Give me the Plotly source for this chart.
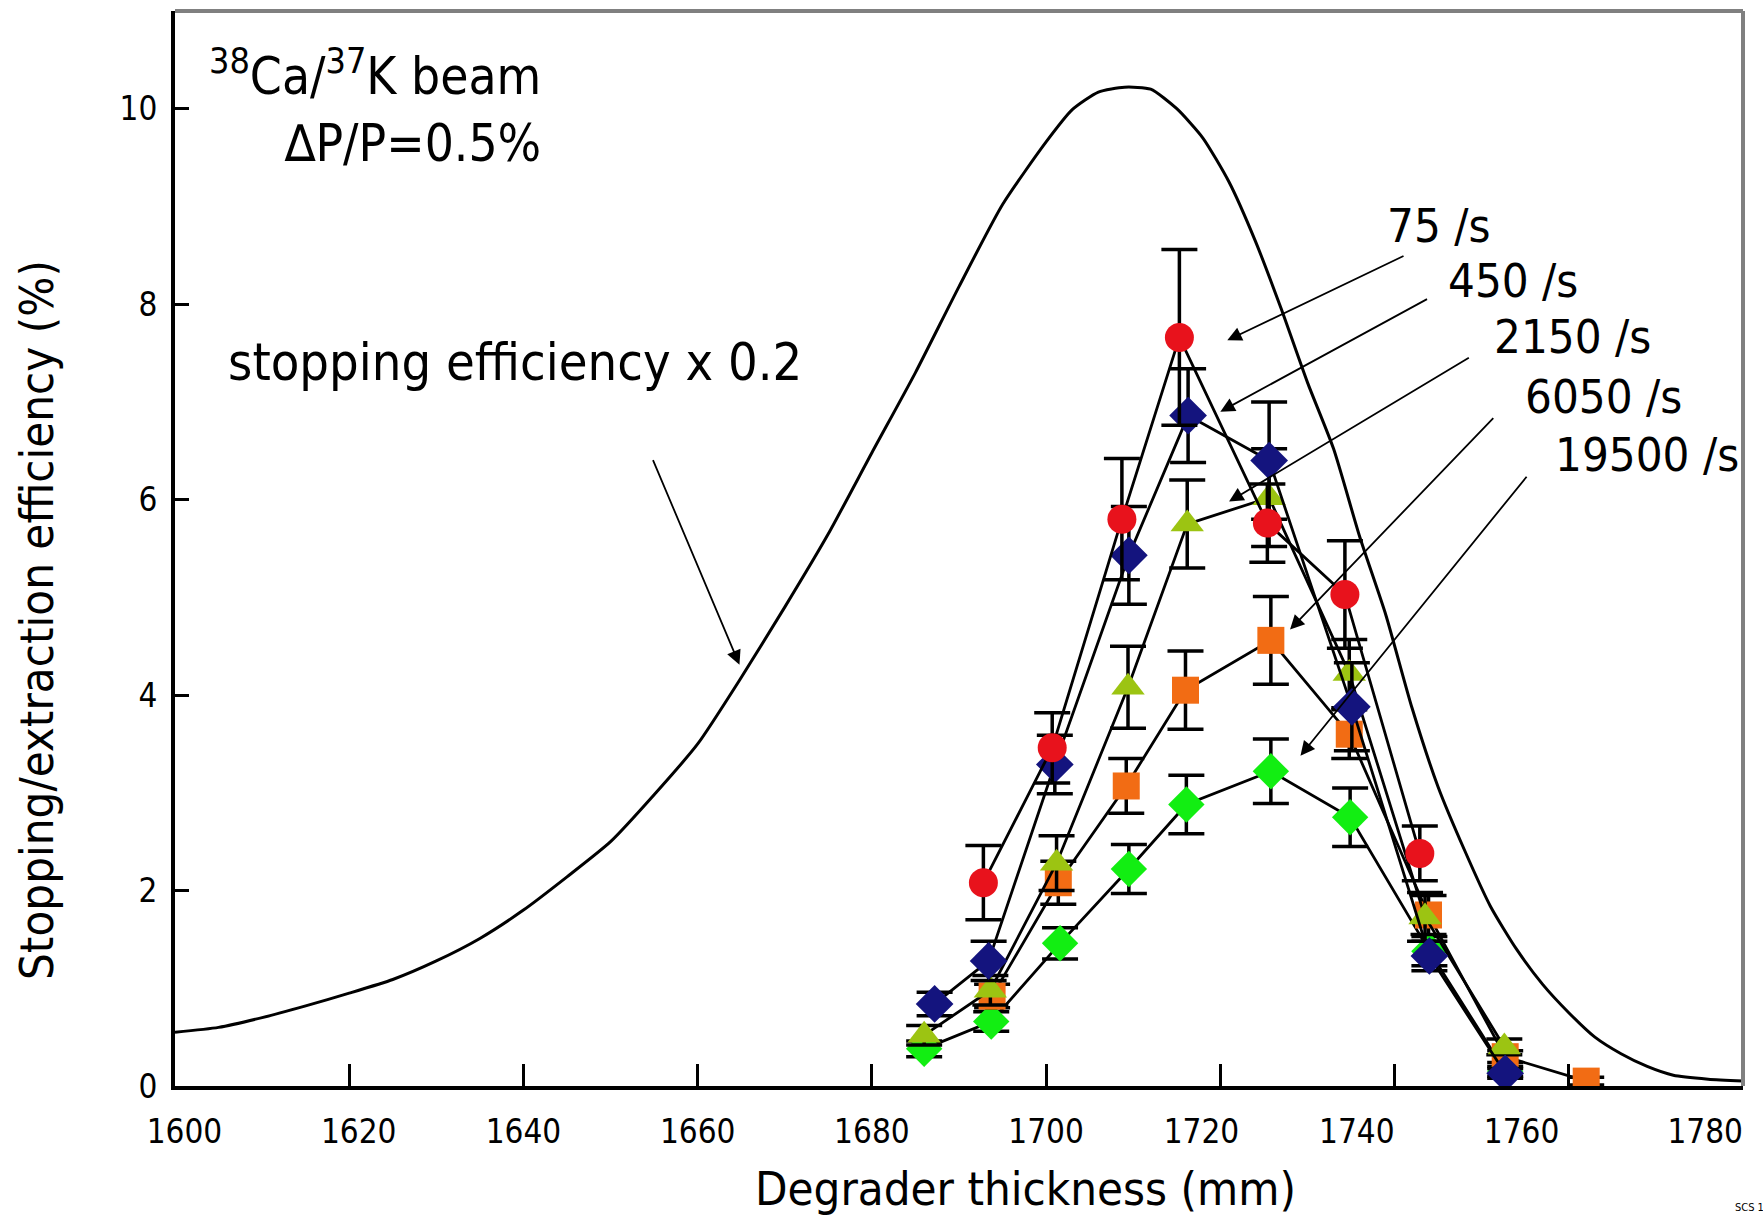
import plotly.graph_objects as go

# Stopping efficiency (scaled x 0.2) versus degrader thickness
curve_x = [1600, 1605, 1610, 1615, 1620, 1625, 1630, 1635, 1640, 1645, 1650, 1655,
           1660, 1665, 1670, 1675, 1680, 1685, 1690, 1695, 1700, 1703, 1706, 1709,
           1712, 1715, 1718, 1721, 1724, 1727, 1730, 1733, 1736, 1739, 1742, 1745,
           1748, 1751, 1754, 1757, 1760, 1763, 1766, 1769, 1772, 1776, 1780]
curve_y = [0.55, 0.60, 0.70, 0.82, 0.95, 1.09, 1.28, 1.51, 1.80, 2.14, 2.50, 2.98,
           3.50, 4.18, 4.90, 5.65, 6.48, 7.30, 8.18, 9.02, 9.66, 9.99, 10.17, 10.22,
           10.20, 10.00, 9.70, 9.25, 8.65, 7.95, 7.20, 6.52, 5.62, 4.82, 3.87, 3.06,
           2.42, 1.84, 1.40, 1.04, 0.75, 0.50, 0.33, 0.20, 0.11, 0.07, 0.05]

# Measured stopping/extraction efficiency for each beam rate
rate_labels = ["75 /s", "450 /s", "2150 /s", "6050 /s", "19500 /s"]

x_75 = [1692.8, 1700.7, 1708.7, 1715.3, 1725.4, 1734.3, 1742.9]
y_75 = [2.08, 3.46, 5.80, 7.66, 5.76, 5.03, 2.38]
e_75 = [0.38, 0.36, 0.62, 0.90, 0.40, 0.55, 0.28]

x_450 = [1687.2, 1693.4, 1701.0, 1709.5, 1716.3, 1725.6, 1735.1, 1744.0, 1752.7]
y_450 = [0.84, 1.28, 3.29, 5.43, 6.86, 6.40, 3.88, 1.33, 0.13]
e_450 = [0.12, 0.20, 0.30, 0.50, 0.48, 0.60, 0.45, 0.15, 0.05]

x_2150 = [1686.0, 1693.6, 1701.2, 1709.4, 1716.2, 1725.6, 1734.8, 1743.5, 1752.6]
y_2150 = [0.52, 0.98, 2.28, 4.08, 5.75, 6.02, 4.22, 1.73, 0.40]
e_2150 = [0.10, 0.15, 0.28, 0.42, 0.45, 0.50, 0.35, 0.25, 0.08]

x_6050 = [1693.8, 1701.4, 1709.2, 1716.0, 1725.8, 1734.8, 1743.9, 1752.7, 1762.0]
y_6050 = [0.92, 2.08, 3.07, 4.05, 4.56, 3.60, 1.75, 0.30, 0.05]
e_6050 = [0.12, 0.22, 0.28, 0.40, 0.45, 0.25, 0.20, 0.06, 0.04]

x_19500 = [1686.0, 1693.7, 1701.6, 1709.5, 1716.1, 1725.8, 1734.9, 1744.0, 1752.7]
y_19500 = [0.38, 0.66, 1.46, 2.22, 2.88, 3.22, 2.75, 1.38, 0.15]
e_19500 = [0.08, 0.10, 0.16, 0.25, 0.30, 0.33, 0.30, 0.15, 0.05]

x_ticks = [1600, 1620, 1640, 1660, 1680, 1700, 1720, 1740, 1760, 1780]
y_ticks = [0, 2, 4, 6, 8, 10]
X_RANGE = [1600, 1780]

FONT = "DejaVu Sans Condensed, DejaVu Sans, sans-serif"

# x tick labels: a few sit slightly off their tick marks; the last one is
# written right-aligned to its tick by a second (overlaid) x axis
FS = "\u2007"  # figure space
label_pad = {1600: (1, 0), 1620: (1, 0), 1720: (0, 2), 1740: (0, 4), 1760: (0, 5)}
x_ticktext = []
for v in x_ticks:
    lead, trail = label_pad.get(v, (0, 0))
    x_ticktext.append("" if v == x_ticks[-1] else FS * lead + str(v) + FS * trail)

fig = go.Figure()

fig.add_trace(go.Scatter(
    x=curve_x, y=curve_y, mode="lines", xaxis="x2", yaxis="y",
    line=dict(color="black", width=3, shape="spline", smoothing=0.6),
    showlegend=False, hoverinfo="skip"))

# drawing order: the first series listed here ends up underneath
series = [
    (x_19500, y_19500, e_19500, "diamond", "#12ee12", 28),
    (x_6050, y_6050, e_6050, "square", "#f26c14", 27),
    (x_2150, y_2150, e_2150, "triangle-up", "#9cc412", 29),
    (x_450, y_450, e_450, "diamond", "#14147e", 29),
    (x_75, y_75, e_75, "circle", "#e8121c", 29),
]
for xs, ys, es, sym, col, size in series:
    fig.add_trace(go.Scatter(
        x=xs, y=ys, mode="lines+markers",
        line=dict(color="black", width=2.8),
        marker=dict(symbol=sym, color=col, size=size, line=dict(width=0)),
        error_y=dict(type="data", array=es, visible=True, color="black",
                     thickness=3.5, width=18),
        showlegend=False))

annotations = []

# beam description
annotations.append(dict(
    x=1642.3, y=10.02, xref="x", yref="y", xanchor="right", yanchor="middle",
    align="right", showarrow=False,
    text="<sup>38</sup>Ca/<sup>37</sup>K beam<br>\u2206P/P=0.5%",
    font=dict(family=FONT, size=51, color="black")))

annotations.append(dict(
    x=1605.9, y=7.41, xref="x", yref="y", xanchor="left", yanchor="middle",
    showarrow=False, text="stopping efficiency x 0.2",
    font=dict(family=FONT, size=52, color="black")))

annotations.append(dict(
    x=1664.8, y=4.31, ax=1654.8, ay=6.42, xref="x", yref="y",
    axref="x", ayref="y", text="", showarrow=True, arrowhead=2,
    arrowsize=1.6, arrowwidth=1.8, arrowcolor="black", standoff=0))

# rate labels and their pointers
label_pos = [(1738.9, 8.81), (1745.9, 8.24), (1751.2, 7.67), (1754.7, 7.06), (1758.2, 6.46)]
arrow_tail = [(1741.2, 8.50), (1743.9, 8.06), (1748.7, 7.46), (1751.5, 6.85), (1755.3, 6.25)]
arrow_head = [(1720.8, 7.63), (1720.0, 6.90), (1721.0, 5.98), (1728.0, 4.67), (1729.2, 3.38)]
for lab, (lx, ly), (tx, ty), (hx, hy) in zip(rate_labels, label_pos, arrow_tail, arrow_head):
    annotations.append(dict(
        x=lx, y=ly, xref="x", yref="y", xanchor="left", yanchor="middle",
        showarrow=False, text=lab, font=dict(family=FONT, size=47, color="black")))
    annotations.append(dict(
        x=hx, y=hy, ax=tx, ay=ty, xref="x", yref="y", axref="x", ayref="y",
        text="", showarrow=True, arrowhead=2, arrowsize=1.6, arrowwidth=1.8,
        arrowcolor="black", standoff=0))

# axis titles
annotations.append(dict(
    x=-0.088, y=0.4335, xref="paper", yref="paper", xanchor="center", yanchor="middle",
    textangle=-90, showarrow=False, text="Stopping/extraction efficiency (%)",
    font=dict(family=FONT, size=47, color="black")))
annotations.append(dict(
    x=0.5424, y=-0.0953, xref="paper", yref="paper", xanchor="center", yanchor="middle",
    showarrow=False, text="Degrader thickness (mm)",
    font=dict(family=FONT, size=47, color="black")))

annotations.append(dict(
    x=0.9936, y=-0.113, xref="paper", yref="paper", xanchor="left", yanchor="middle",
    showarrow=False, text="SCS 1", font=dict(family=FONT, size=11, color="black")))

shapes = [
    dict(type="line", xref="paper", yref="paper", x0=0, x1=1, y0=1, y1=1,
         line=dict(color="#808080", width=4)),
    dict(type="line", xref="paper", yref="paper", x0=1, x1=1, y0=0, y1=1,
         line=dict(color="#808080", width=4)),
]

fig.update_layout(
    width=1763, height=1216,
    margin=dict(l=175, r=20, t=11, b=130, autoexpand=False),
    paper_bgcolor="white", plot_bgcolor="white",
    font=dict(family=FONT, color="black"),
    annotations=annotations, shapes=shapes,
    xaxis=dict(
        range=X_RANGE, tickvals=x_ticks, ticktext=x_ticktext,
        ticks="inside", ticklen=22, tickwidth=3, tickcolor="black",
        showline=True, linecolor="black", linewidth=4, showgrid=False, zeroline=False,
        tickfont=dict(family=FONT, size=33), ticklabelstandoff=13,
        ticklabeloverflow="allow", automargin=False),
    xaxis2=dict(
        range=X_RANGE, overlaying="x", side="bottom", anchor="y",
        tickvals=[x_ticks[-1]], ticktext=[str(x_ticks[-1])],
        ticks="", showline=False, showgrid=False, zeroline=False,
        ticklabelposition="outside left",
        tickfont=dict(family=FONT, size=33), ticklabelstandoff=23,
        ticklabeloverflow="allow", automargin=False),
    yaxis=dict(
        range=[0, 11], tickvals=y_ticks, ticktext=[str(v) for v in y_ticks],
        ticks="inside", ticklen=14, tickwidth=3, tickcolor="black",
        showline=True, linecolor="black", linewidth=4, showgrid=False, zeroline=False,
        tickfont=dict(family=FONT, size=33), ticklabelstandoff=7,
        ticklabeloverflow="allow", automargin=False),
)

fig.write_html("out.html")
